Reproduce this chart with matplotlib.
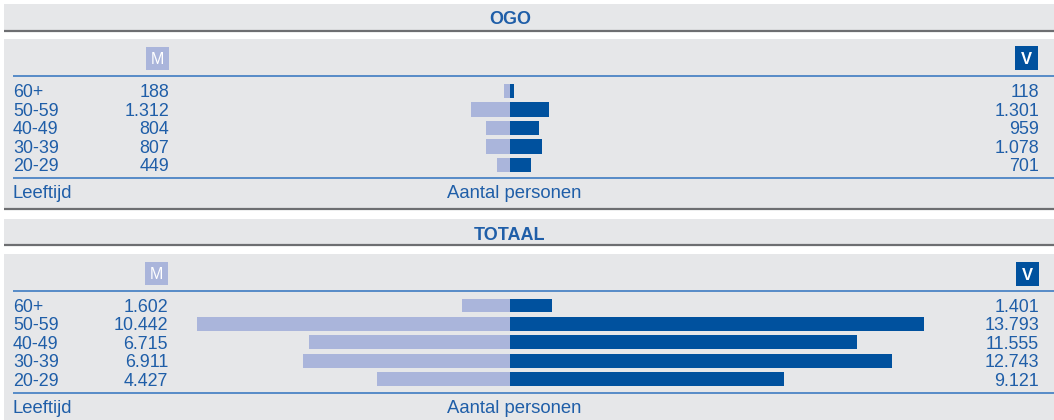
import matplotlib
matplotlib.use("Agg")
import matplotlib.pyplot as plt
from matplotlib.patches import Rectangle
from matplotlib import transforms

# ---- data ----
ages = ["60+", "50-59", "40-49", "30-39", "20-29"]
ogo_men = [188, 1312, 804, 807, 449]
ogo_women = [118, 1301, 959, 1078, 701]
tot_men = [1602, 10442, 6715, 6911, 4427]
tot_women = [1401, 13793, 11555, 12743, 9121]
titles = ["OGO", "TOTAAL"]
label_age = "Leeftijd"
label_count = "Aantal personen"


def fmt(v):
    return f"{v:,}".replace(",", ".")


W, H = 1054, 420
BG = "#e6e7e9"
DARKLINE = "#6d6e71"
BLUELINE = "#3f7cc2"
TXT = "#1f5ea8"
LIGHT = "#aab5db"
DARK = "#00519e"
FONT = "Liberation Sans"
FS = 12.9

fig = plt.figure(figsize=(W / 100, H / 100), dpi=100)
fig.patch.set_facecolor("white")
ax0 = fig.add_axes([0, 0, 1, 1])
ax0.set_xlim(0, W)
ax0.set_ylim(H, 0)
ax0.axis("off")

px = 0.03  # pixels per person
center = 510

panels = [
    dict(title=titles[0], men=ogo_men, women=ogo_women, band=(4, 31), tbase=24.5, panel=(39, 209),
         mbox=(146, 47), vbox=(1015, 46), bl1=76, bl2=178, yc0=91, s=18.5,
         mx=169, vx=1039),
    dict(title=titles[1], men=tot_men, women=tot_women, band=(219, 245), tbase=240.5, panel=(254, 420),
         mbox=(145, 262), vbox=(1016, 262), bl1=291, bl2=393, yc0=305.5, s=18.4,
         mx=168, vx=1039),
]

for p in panels:
    b0, b1 = p["band"]
    ax0.add_patch(Rectangle((4, b0), W - 4, b1 - b0, color=BG, lw=0, zorder=0))
    ax0.plot([4, W], [b1, b1], color=DARKLINE, lw=1.6, zorder=1, solid_capstyle="butt")
    ax0.text(center, p["tbase"], p["title"], ha="center", va="baseline",
             color=TXT, fontsize=13, fontweight="bold", family=FONT)
    q0, q1 = p["panel"]
    ax0.add_patch(Rectangle((4, q0), W - 4, q1 - q0, color=BG, lw=0, zorder=0))
    if q1 < H:
        ax0.plot([4, W], [q1, q1], color=DARKLINE, lw=1.6, zorder=1, solid_capstyle="butt")
    for yl in (p["bl1"], p["bl2"]):
        ax0.plot([13, W], [yl, yl], color=BLUELINE, lw=1.2, zorder=1, solid_capstyle="butt")
    # M / V boxes
    mx0, my0 = p["mbox"]
    ax0.add_patch(Rectangle((mx0, my0), 23, 23, color=LIGHT, lw=0, zorder=1))
    ax0.text(mx0 + 11.5, my0 + 17, "M", ha="center", va="baseline", color="white",
             fontsize=11.5, family=FONT, zorder=2)
    vx0, vy0 = p["vbox"]
    ax0.add_patch(Rectangle((vx0, vy0), 23, 24, color=DARK, lw=0, zorder=1))
    ax0.text(vx0 + 11.5, vy0 + 18, "V", ha="center", va="baseline", color="white",
             fontsize=12, family=FONT, fontweight="bold", zorder=2)
    # footer
    fb = p["bl2"] + 20
    ax0.text(13, fb, label_age, ha="left", va="baseline", color=TXT, fontsize=13.3, family=FONT)
    ax0.text(514, fb, label_count, ha="center", va="baseline", color=TXT, fontsize=13.3, family=FONT)

    # bars axes
    yc0, s = p["yc0"], p["s"]
    top = yc0 - 0.5 * s
    bot = yc0 + 4.5 * s
    ax = fig.add_axes([0, 1 - bot / H, 1, (bot - top) / H])
    ax.set_xlim(-center / px, (W - center) / px)
    ax.set_ylim(4.5, -0.5)
    ax.axis("off")
    ax.patch.set_alpha(0)
    ys = list(range(len(ages)))
    ax.barh(ys, [-m for m in p["men"]], height=0.76, color=LIGHT, lw=0)
    ax.barh(ys, p["women"], height=0.76, color=DARK, lw=0)
    tr = transforms.blended_transform_factory(ax0.transData, ax.transData)
    off = 0.35
    for i, a in enumerate(ages):
        ax.text(13, i + off, a, transform=tr, ha="left", va="baseline", color=TXT, fontsize=FS, family=FONT)
        ax.text(p["mx"], i + off, fmt(p["men"][i]), transform=tr, ha="right", va="baseline",
                color=TXT, fontsize=FS, family=FONT)
        ax.text(p["vx"], i + off, fmt(p["women"][i]), transform=tr, ha="right", va="baseline",
                color=TXT, fontsize=FS, family=FONT)

fig.savefig("out.png", dpi=100)
